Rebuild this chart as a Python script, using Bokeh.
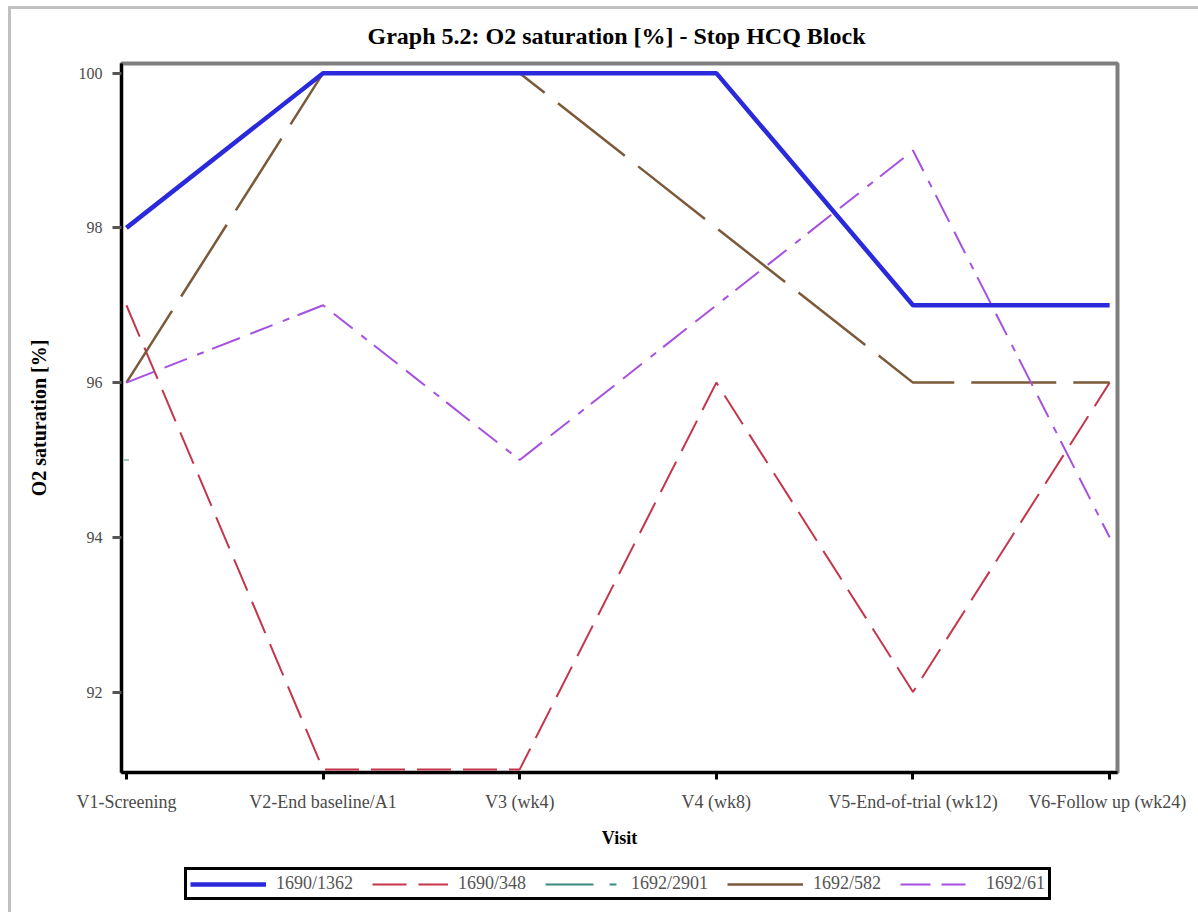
import numpy as np
from bokeh.plotting import figure
from bokeh.layouts import column
from bokeh.models import Range1d, FixedTicker, Legend, LegendItem
from bokeh.embed import file_html
from bokeh.resources import INLINE

# Visits on the x axis
visits = ["V1-Screening", "V2-End baseline/A1", "V3 (wk4)", "V4 (wk8)",
          "V5-End-of-trial (wk12)", "V6-Follow up  (wk24)"]
visit_pos = list(range(len(visits)))

# O2 saturation [%] per subject
subjects = ["1690/1362", "1690/348", "1692/2901", "1692/582", "1692/61"]
sat_1690_1362 = [98, 100, 100, 100, 97, 97]
sat_1690_348 = [97, 91, 91, 96, 92, 96]
sat_1692_2901 = [95, np.nan, np.nan, np.nan, np.nan, np.nan]
sat_1692_582 = [96, 100, 100, 98, 96, 96]
sat_1692_61 = [96, 97, 95, 97, 99, 94]

series = {
    "1690/1362": sat_1690_1362,
    "1690/348": sat_1690_348,
    "1692/2901": sat_1692_2901,
    "1692/582": sat_1692_582,
    "1692/61": sat_1692_61,
}

y_ticks = [92, 94, 96, 98, 100]

SERIF = "Liberation Serif"

# line style per subject
styles = {
    "1690/1362": dict(line_color="#2a2adc", line_width=4.5),
    "1690/348": dict(line_color="#c3364b", line_width=2, line_dash="34 12"),
    "1692/2901": dict(line_color="#3a8a80", line_width=2, line_dash="48 16 7 16"),
    "1692/582": dict(line_color="#7b5a3a", line_width=2.5, line_dash="85 17"),
    "1692/61": dict(line_color="#a650e0", line_width=2, line_dash="30 11 24 11 7 9"),
}

p = figure(width=1198, height=860, output_backend="svg", toolbar_location=None,
           x_range=Range1d(-0.025, 5.04), y_range=Range1d(90.96, 100.125),
           min_border_left=121, min_border_right=81, min_border_top=63,
           min_border_bottom=88)
p.border_fill_alpha = 0

p.title.text = "Graph 5.2:  O2 saturation [%] - Stop HCQ Block"
p.title.align = "center"
p.title.text_font = SERIF
p.title.text_font_size = "24px"
p.title.text_font_style = "bold"
p.title.text_color = "black"
p.title.standoff = 30

p.grid.visible = False
p.background_fill_color = "white"
p.outline_line_color = "#7f7f7f"
p.outline_line_width = 4

# y axis
ya = p.yaxis[0]
ya.ticker = FixedTicker(ticks=y_ticks)
ya.minor_tick_line_color = None
ya.axis_line_color = "black"
ya.axis_line_width = 3
ya.major_tick_line_color = "#555555"
ya.major_tick_line_width = 3
ya.major_tick_out = 9
ya.major_tick_in = 0
ya.major_label_standoff = 10
ya.major_label_text_font = SERIF
ya.major_label_text_font_size = "16px"
ya.major_label_text_color = "#4a4a4a"
ya.axis_label = "O2 saturation [%]"
ya.axis_label_text_font = SERIF
ya.axis_label_text_font_size = "20px"
ya.axis_label_text_font_style = "bold"
ya.axis_label_text_color = "black"
ya.axis_label_standoff = 26

# x axis
xa = p.xaxis[0]
xa.ticker = FixedTicker(ticks=visit_pos)
xa.major_label_overrides = {i: v for i, v in zip(visit_pos, visits)}
xa.minor_tick_line_color = None
xa.axis_line_color = "black"
xa.axis_line_width = 3
xa.major_tick_line_color = "black"
xa.major_tick_line_width = 3
xa.major_tick_out = 7
xa.major_tick_in = 0
xa.major_label_standoff = 12
xa.major_label_text_font = SERIF
xa.major_label_text_font_size = "18px"
xa.major_label_text_color = "#4a4a4a"
xa.axis_label = "Visit"
xa.axis_label_text_font = SERIF
xa.axis_label_text_font_size = "18px"
xa.axis_label_text_font_style = "bold"
xa.axis_label_text_color = "black"
xa.axis_label_standoff = 13

# series (drawing order keeps the solid blue line on top)
for name in ["1690/348", "1692/2901", "1692/582", "1692/61", "1690/1362"]:
    p.line(visit_pos, series[name], **styles[name])
p.scatter(visit_pos, sat_1692_2901, marker="dash", size=5, line_color="#9cc8c4",
          line_width=2)

# legend strip beneath the chart; its own ranges keep the series out of view,
# so only the legend samples show
leg = figure(width=1198, height=52, output_backend="svg", toolbar_location=None,
             x_range=Range1d(-0.025, 5.04), y_range=Range1d(0, 1),
             x_axis_location=None, y_axis_location=None,
             min_border=0, outline_line_color=None)
leg.grid.visible = False
leg.border_fill_alpha = 0
leg.background_fill_alpha = 0
items = []
for name in subjects:
    r = leg.line(visit_pos, series[name], **styles[name])
    items.append(LegendItem(label=name, renderers=[r]))

legend = Legend(items=items, orientation="horizontal", location=(63, 12))
legend.border_line_color = "black"
legend.border_line_width = 3
legend.border_line_alpha = 1
legend.background_fill_color = "white"
legend.background_fill_alpha = 1
legend.label_text_font = SERIF
legend.label_text_font_size = "18px"
legend.label_text_color = "#555555"
legend.glyph_width = 76
legend.glyph_height = 14
legend.label_height = 14
legend.label_standoff = 10
legend.spacing = 19
legend.padding = 3
legend.margin = 0
leg.add_layout(legend, "center")

page = column(p, leg, spacing=0)
# thin light page frame along the top and left edges
page.styles = {"box-shadow": "inset 8px 6px 0 0 #ffffff, inset 11px 9px 0 0 #c0c0c0",
               "background-color": "#ffffff"}

open("out.html", "w").write(file_html(page, INLINE))
